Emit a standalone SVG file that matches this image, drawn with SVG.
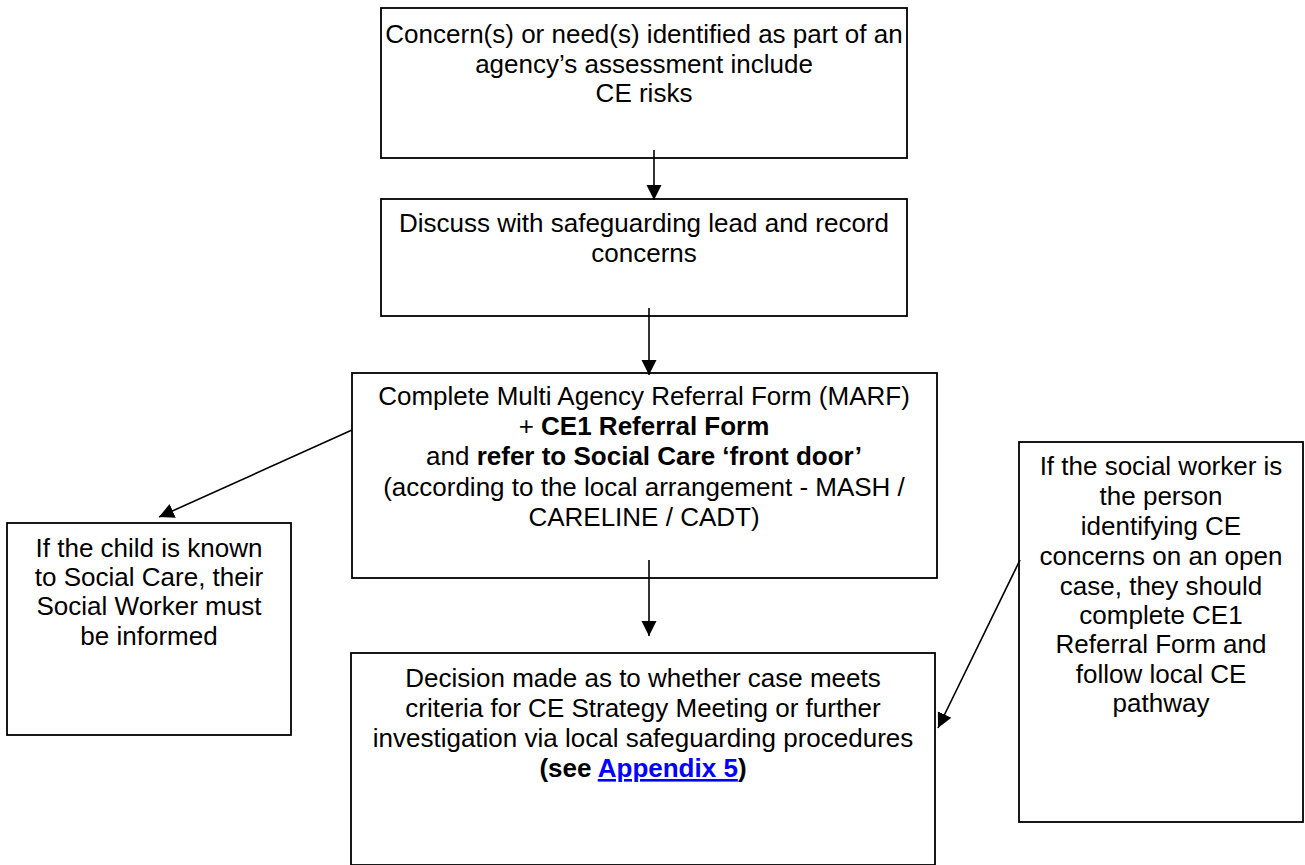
<svg xmlns="http://www.w3.org/2000/svg" width="1305" height="865" viewBox="0 0 1305 865">
<style>
  .box { fill: #ffffff; stroke: #000000; stroke-width: 1.8; }
  .t { font-family: "Liberation Sans", Arial, sans-serif; font-size: 26px; fill: #000000; text-anchor: middle; }
  .b { font-weight: bold; }
  .link { fill: #0000ff; text-decoration: underline; }
  .conn { stroke: #000000; stroke-width: 1.6; fill: none; }
</style>
<defs>
  <marker id="arr" markerUnits="userSpaceOnUse" markerWidth="18" markerHeight="18" viewBox="0 0 18 18" refX="15" refY="9" orient="auto">
    <path d="M0,1.5 L15,9 L0,16.5 Z" fill="#000000"/>
  </marker>
</defs>
<rect width="1305" height="865" fill="#ffffff"/>

<g id="node-concerns">
  <rect class="box" x="381" y="8" width="526" height="150"/>
  <text class="t" x="644" y="43">Concern(s) or need(s) identified as part of an</text>
  <text class="t" x="644" y="73">agency’s assessment include</text>
  <text class="t" x="644" y="102">CE risks</text>
</g>

<g id="node-discuss">
  <rect class="box" x="381" y="199" width="526" height="117"/>
  <text class="t" x="644" y="232">Discuss with safeguarding lead and record</text>
  <text class="t" x="644" y="262">concerns</text>
</g>

<g id="node-marf">
  <rect class="box" x="352" y="373" width="585" height="205"/>
  <text class="t" x="644" y="405">Complete Multi Agency Referral Form (MARF)</text>
  <text class="t" x="644" y="435">+ <tspan class="b">CE1 Referral Form</tspan></text>
  <text class="t" x="644" y="465">and <tspan class="b">refer to Social Care ‘front door’</tspan></text>
  <text class="t" x="644" y="496">(according to the local arrangement - MASH /</text>
  <text class="t" x="644" y="526">CARELINE / CADT)</text>
</g>

<g id="node-known">
  <rect class="box" x="7" y="523" width="284" height="212"/>
  <text class="t" x="149" y="557">If the child is known</text>
  <text class="t" x="149" y="586">to Social Care, their</text>
  <text class="t" x="149" y="615">Social Worker must</text>
  <text class="t" x="149" y="645">be informed</text>
</g>

<g id="node-decision">
  <rect class="box" x="351" y="653" width="584" height="212"/>
  <text class="t" x="643" y="687">Decision made as to whether case meets</text>
  <text class="t" x="643" y="717">criteria for CE Strategy Meeting or further</text>
  <text class="t" x="643" y="747">investigation via local safeguarding procedures</text>
  <text class="t b" x="643" y="777">(see <tspan class="link">Appendix 5</tspan>)</text>
</g>

<g id="node-socialworker">
  <rect class="box" x="1019" y="442" width="284" height="380"/>
  <text class="t" x="1161" y="475">If the social worker is</text>
  <text class="t" x="1161" y="505">the person</text>
  <text class="t" x="1161" y="535">identifying CE</text>
  <text class="t" x="1161" y="565">concerns on an open</text>
  <text class="t" x="1161" y="595">case, they should</text>
  <text class="t" x="1161" y="624">complete CE1</text>
  <text class="t" x="1161" y="653">Referral Form and</text>
  <text class="t" x="1161" y="683">follow local CE</text>
  <text class="t" x="1161" y="712">pathway</text>
</g>

<g id="connectors">
  <line class="conn" x1="654" y1="150" x2="654" y2="200" marker-end="url(#arr)"/>
  <line class="conn" x1="649" y1="308" x2="649" y2="375" marker-end="url(#arr)"/>
  <line class="conn" x1="649" y1="560" x2="649" y2="636" marker-end="url(#arr)"/>
  <line class="conn" x1="352" y1="430" x2="159" y2="517" marker-end="url(#arr)"/>
  <line class="conn" x1="1020" y1="560" x2="938" y2="728" marker-end="url(#arr)"/>
</g>
</svg>
